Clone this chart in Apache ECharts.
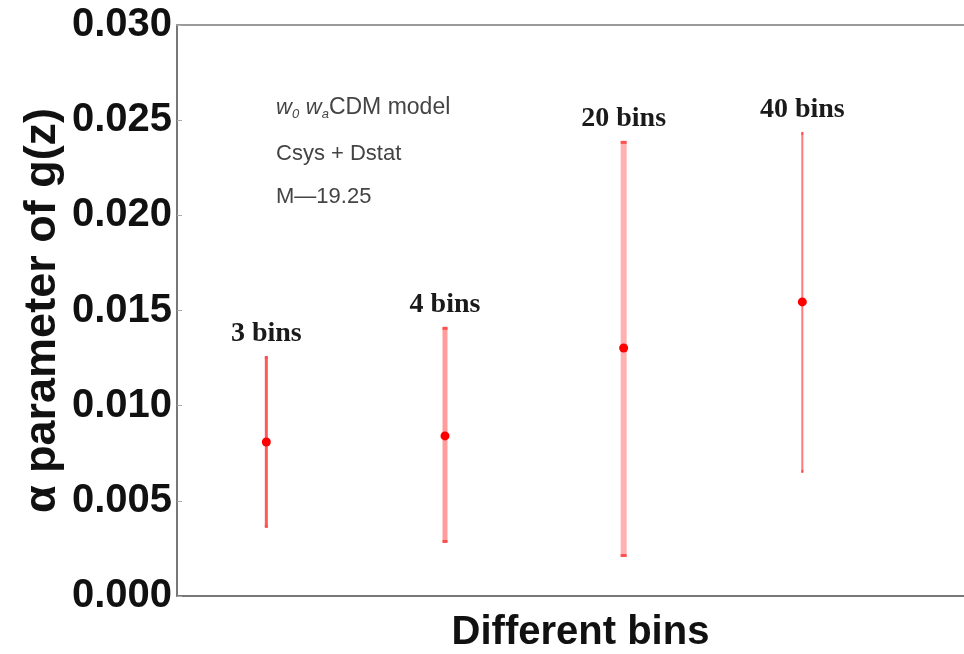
<!DOCTYPE html>
<html>
<head>
<meta charset="utf-8">
<script src="https://cdn.jsdelivr.net/npm/echarts@6/dist/echarts.min.js"></script>
<style>
  html, body { margin: 0; padding: 0; background: #fff; }
  #chart { width: 964px; height: 654px; }
</style>
</head>
<body>
<div id="chart"></div>
<script>
// values
const binLabels = ['3 bins', '4 bins', '20 bins', '40 bins']
const binPositions = [1, 2, 3, 4]
const alphaCentral = [0.00809, 0.00841, 0.01303, 0.01545]
const alphaUpper = [0.01256, 0.01409, 0.02386, 0.02433]
const alphaLower = [0.00363, 0.00284, 0.0021, 0.00652]

// each error bar is drawn a bit differently in the original
const barWidths = [3, 5, 6, 2]
const barColors = ['#ff5a5a', '#ff9c9c', '#ffb0b0', '#ff7a7a']

const sans = '"Liberation Sans", Arial, sans-serif'

const chart = echarts.init(document.getElementById('chart'))

function renderErrorBar(params, api) {
  const i = params.dataIndex
  const x = api.value(0)
  const top = api.coord([x, api.value(2)])
  const bot = api.coord([x, api.value(1)])
  const w = barWidths[i]
  return {
    type: 'group',
    children: [
      {
        type: 'rect',
        shape: { x: top[0] - w / 2, y: top[1], width: w, height: bot[1] - top[1] },
        style: { fill: barColors[i] },
      },
      {
        type: 'rect',
        shape: { x: top[0] - w / 2, y: top[1] - 1, width: w, height: 3 },
        style: { fill: '#ff5050' },
      },
      {
        type: 'rect',
        shape: { x: bot[0] - w / 2, y: bot[1] - 2, width: w, height: 3 },
        style: { fill: '#ff5050' },
      },
      {
        type: 'text',
        x: top[0],
        y: top[1] - 23,
        style: {
          text: binLabels[i],
          font: 'bold 28px "Liberation Serif", "Times New Roman", serif',
          fill: '#1a1a1a',
          align: 'center',
          verticalAlign: 'middle',
        },
      },
    ],
  }
}

const option = {
  animation: false,
  grid: { left: 177, right: 0, top: 25, bottom: 58, outerBoundsMode: 'none' },
  xAxis: [
    {
      type: 'value',
      min: 0.5,
      max: 4.905,
      name: 'Different bins',
      nameLocation: 'middle',
      nameGap: 17,
      nameMoveOverlap: false,
      nameTextStyle: {
        fontFamily: sans,
        fontWeight: 'bold',
        fontSize: 40,
        color: '#111',
        verticalAlign: 'top',
        padding: [0, 0, 0, 20],
      },
      axisLine: { show: true, lineStyle: { color: '#777', width: 2 } },
      axisTick: { show: false },
      axisLabel: { show: false },
      splitLine: { show: false },
    },
    {
      type: 'value',
      position: 'top',
      min: 0.5,
      max: 4.905,
      axisLine: { show: true, lineStyle: { color: '#9a9a9a', width: 2 } },
      axisTick: { show: false },
      axisLabel: { show: false },
      splitLine: { show: false },
    },
  ],
  yAxis: {
    type: 'value',
    min: 0,
    max: 0.03,
    interval: 0.005,
    name: 'α parameter of g(z)',
    nameLocation: 'middle',
    nameGap: 112,
    nameMoveOverlap: false,
    nameTextStyle: {
      fontFamily: sans,
      fontWeight: 'bold',
      fontSize: 45,
      color: '#111',
    },
    axisLine: { show: true, lineStyle: { color: '#777', width: 2 } },
    axisTick: { show: true, inside: true, length: 5, lineStyle: { color: '#aaa' } },
    axisLabel: {
      fontFamily: sans,
      fontWeight: 'bold',
      fontSize: 40,
      color: '#111',
      margin: 5,
      formatter: (v) => v.toFixed(3),
    },
    splitLine: { show: false },
  },
  graphic: [
    {
      type: 'text',
      left: 276,
      top: 96,
      style: {
        text: '{i|w}{s|0}  {i|w}{s|a}{n|CDM model}',
        rich: {
          i: { fontFamily: sans, fontStyle: 'italic', fontSize: 22, fill: '#444', lineHeight: 26 },
          s: { fontFamily: sans, fontStyle: 'italic', fontSize: 13, fill: '#444', verticalAlign: 'bottom', lineHeight: 26 },
          n: { fontFamily: sans, fontSize: 23, fill: '#444', lineHeight: 26 },
        },
      },
    },
    {
      type: 'text',
      left: 276,
      top: 143,
      style: { text: 'Csys + Dstat', font: '22px "Liberation Sans", Arial', fill: '#444' },
    },
    {
      type: 'text',
      left: 276,
      top: 186,
      style: { text: 'M—19.25', font: '22px "Liberation Sans", Arial', fill: '#444' },
    },
  ],
  series: [
    {
      type: 'custom',
      renderItem: renderErrorBar,
      data: binPositions.map((x, i) => [x, alphaLower[i], alphaUpper[i]]),
      z: 2,
    },
    {
      type: 'scatter',
      symbol: 'circle',
      symbolSize: 9,
      itemStyle: { color: '#ff0000', opacity: 1 },
      data: binPositions.map((x, i) => [x, alphaCentral[i]]),
      z: 3,
    },
  ],
}

chart.setOption(option)
</script>
</body>
</html>
